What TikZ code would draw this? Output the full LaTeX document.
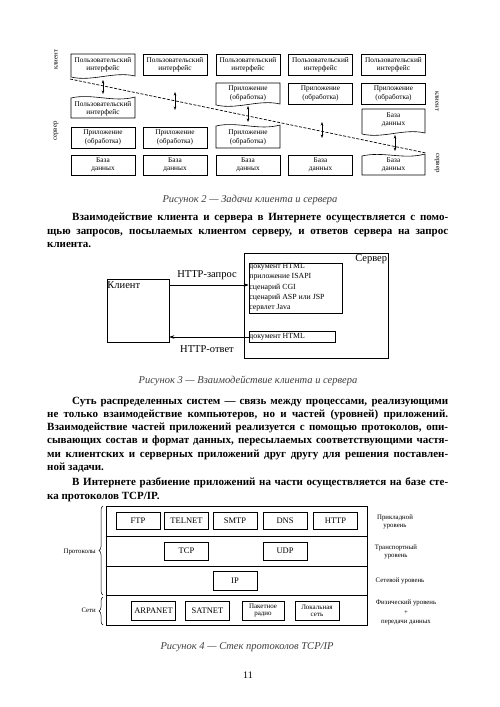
\documentclass[tikz,border=0pt]{standalone}
\usepackage{fontspec}
\setmainfont{Liberation Serif}
\usetikzlibrary{arrows.meta,decorations.pathreplacing}
\newcommand{\fsz}[2]{\fontsize{#1}{#2}\selectfont}
\tikzset{
  bx/.style={draw, line width=0.6pt, inner sep=0pt, align=center, font=\fsz{7.3}{8.3}, minimum width=64pt, minimum height=21pt},
  tx/.style={inner sep=0pt, align=center, font=\fsz{7.3}{8.3}},
  wv/.style={draw, line width=0.6pt},
  ln/.style={inner sep=0pt, anchor=base west, font=\fsz{11}{13}\bfseries},
  figcap/.style={inner sep=0pt, font=\fsz{10.5}{12}\itshape, text=black!75},
  pb/.style={draw, line width=0.6pt, minimum width=44pt, inner sep=0pt, align=center, font=\fsz{8.5}{9}},
  lab/.style={inner sep=0pt, align=center, font=\fsz{6.8}{8}},
  dbl/.style={{Stealth[length=3.5pt,width=2.6pt]}-{Stealth[length=3.5pt,width=2.6pt]}, line width=0.6pt},
  arr/.style={-{Stealth[length=5pt,width=3.5pt]}, line width=0.6pt},
  big/.style={inner sep=0pt, font=\fsz{10.5}{12}},
}
\begin{document}
\begin{tikzpicture}[x=1pt,y=-1pt]
\useasboundingbox (0,0) rectangle (500,707);
\fill[white] (0,0) rectangle (500,707);

% ---------------- Figure 2 ----------------
% column 1
\draw[wv] (71,54) -- (135,54) -- (135,76) .. controls (114,71) and (92,82) .. (71,77) -- cycle;
\node[tx] (c1ui) at (103,64.5) {Пользовательский\\интерфейс};
\draw[wv] (71,118) -- (71,98) .. controls (92,93) and (114,103) .. (135,97) -- (135,118) -- cycle;
\node[tx] (c1uib) at (103,108.5) {Пользовательский\\интерфейс};
\node[bx] (c1app) at (103,137.5) {Приложение\\(обработка)};
\node[bx, minimum height=20pt] (c1db) at (103,165) {База\\данных};
% column 2
\node[bx] (c2ui) at (175,64.5) {Пользовательский\\интерфейс};
\node[bx] (c2app) at (175,137.5) {Приложение\\(обработка)};
\node[bx, minimum height=20pt] (c2db) at (175,165) {База\\данных};
% column 3
\node[bx] (c3ui) at (248,64.5) {Пользовательский\\интерфейс};
\draw[wv] (216,83) -- (280,83) -- (280,104) .. controls (259,99) and (237,110) .. (216,105) -- cycle;
\node[tx] (c3app) at (248,93.5) {Приложение\\(обработка)};
\draw[wv] (216,148) -- (216,126) .. controls (237,121) and (259,131) .. (280,125) -- (280,148) -- cycle;
\node[tx] (c3appb) at (248,137.5) {Приложение\\(обработка)};
\node[bx, minimum height=20pt] (c3db) at (248,165) {База\\данных};
% column 4
\node[bx] (c4ui) at (320.5,64.5) {Пользовательский\\интерфейс};
\node[bx] (c4app) at (320.5,93.5) {Приложение\\(обработка)};
\node[bx, minimum height=20pt] (c4db) at (320.5,165) {База\\данных};
% column 5
\node[bx] (c5ui) at (393.5,64.5) {Пользовательский\\интерфейс};
\node[bx] (c5app) at (393.5,93.5) {Приложение\\(обработка)};
\draw[wv] (362,109) -- (425,109) -- (425,133) .. controls (404,128) and (383,139) .. (362,134) -- cycle;
\node[tx] (c5db) at (393.5,120) {База\\данных};
\draw[wv] (362,175) -- (362,156) .. controls (383,151) and (404,160) .. (425,154) -- (425,175) -- cycle;
\node[tx] (c5dbb) at (393.5,165) {База\\данных};
% dividing line
\coordinate (dl1) at (70,79);
\coordinate (dl2) at (426,153);
\draw[dash pattern=on 3pt off 1.5pt, line width=0.7pt] (dl1) -- (dl2);
% arrows
\coordinate (a1t) at (103,80);  \coordinate (a1b) at (103,94);
\coordinate (a2t) at (175,92);  \coordinate (a2b) at (175,110);
\coordinate (a3t) at (248,106); \coordinate (a3b) at (248,122);
\coordinate (a4t) at (322,122); \coordinate (a4b) at (322,138);
\coordinate (a5t) at (395,135); \coordinate (a5b) at (395,151);
\draw[dbl] (a1t) -- (a1b);
\draw[dbl] (a2t) -- (a2b);
\draw[dbl] (a3t) -- (a3b);
\draw[dbl] (a4t) -- (a4b);
\draw[dbl] (a5t) -- (a5b);
% side labels
\node[lab, rotate=90] (lcl) at (56,60) {клиент};
\node[lab, rotate=90] (lsv) at (56,131) {сервер};
\node[lab, rotate=-90] (rcl) at (437,101) {клиент};
\node[lab, rotate=-90] (rsv) at (437,163) {сервер};
\node[figcap] (cap2) at (250,200) {Рисунок 2 — Задачи клиента и сервера};

% ---------------- paragraph 1 ----------------
\node[ln] (t1) at (72,220.5) {\makebox[376pt][s]{Взаимодействие клиента и сервера в Интернете осуществляется с помо-}};
\node[ln] (t2) at (47,234) {\makebox[401pt][s]{щью запросов, посылаемых клиентом серверу, и ответов сервера на запрос}};
\node[ln] (t3) at (47,247.5) {клиента.};

% ---------------- Figure 3 ----------------
\node[draw, line width=0.6pt, minimum width=62pt, minimum height=63pt, inner sep=0pt] (client) at (138,310.5) {};
\node[big, anchor=north west] (clientlab) at ([xshift=0.5pt,yshift=-3pt]client.north west) {Клиент};
\node[draw, line width=0.6pt, minimum width=144pt, minimum height=105pt, inner sep=0pt] (server) at (316,305.5) {};
\node[big, anchor=north east] (serverlab) at ([xshift=-1pt,yshift=-1.5pt]server.north east) {Сервер};
\node[draw, line width=0.6pt, minimum width=93pt, minimum height=50pt, inner sep=0pt] (doc1) at (295.5,288) {};
\node[inner sep=0pt, anchor=north west, align=left, font=\fsz{7.8}{10.3}] (doc1t) at ([xshift=0.5pt,yshift=-0.5pt]doc1.north west) {документ HTML\\приложение ISAPI\\сценарий CGI\\сценарий ASP или JSP\\сервлет Java};
\node[draw, line width=0.6pt, minimum width=86pt, minimum height=11pt, inner sep=0pt] (doc2) at (292,336.5) {};
\node[inner sep=0pt, anchor=west, font=\fsz{7.8}{9}] (doc2t) at ([xshift=0.5pt]doc2.west) {документ HTML};
\coordinate (rq) at (0,285);
\coordinate (rs) at (0,337);
\draw[arr] (client.east |- rq) -- (doc1.west |- rq);
\draw[arr] (doc2.west |- rs) -- (client.east |- rs);
\node[big] (reqlab) at (207,275) {HTTP-запрос};
\node[big] (reslab) at (207,349) {HTTP-ответ};
\node[figcap] (cap3) at (248,381) {Рисунок 3 — Взаимодействие клиента и сервера};

% ---------------- paragraphs 2,3 ----------------
\node[ln] (u1) at (72,404) {\makebox[376pt][s]{Суть распределенных систем — связь между процессами, реализующими}};
\node[ln] (u2) at (47,417.3) {\makebox[401pt][s]{не только взаимодействие компьютеров, но и частей (уровней) приложений.}};
\node[ln] (u3) at (47,430.6) {\makebox[401pt][s]{Взаимодействие частей приложений реализуется с помощью протоколов, опи-}};
\node[ln] (u4) at (47,443.9) {\makebox[401pt][s]{сывающих состав и формат данных, пересылаемых соответствующими частя-}};
\node[ln] (u5) at (47,457.2) {\makebox[401pt][s]{ми клиентских и серверных приложений друг другу для решения поставлен-}};
\node[ln] (u6) at (47,470.5) {ной задачи.};
\node[ln] (u7) at (72,485.5) {\makebox[376pt][s]{В Интернете разбиение приложений на части осуществляется на базе сте-}};
\node[ln] (u8) at (47,499) {ка протоколов TCP/IP.};

% ---------------- Figure 4 ----------------
\node[draw, line width=0.6pt, minimum width=261pt, minimum height=119pt, inner sep=0pt] (stack) at (236.5,565.5) {};
\coordinate (s1) at (0,536);
\coordinate (s2) at (0,566);
\coordinate (s3) at (0,595);
\draw[line width=0.6pt] (stack.west |- s1) -- (stack.east |- s1);
\draw[line width=1pt] (stack.west |- s2) -- (stack.east |- s2);
\draw[line width=1pt] (stack.west |- s3) -- (stack.east |- s3);
\node[pb, minimum height=17pt] (ftp) at (138,521) {FTP};
\node[pb, minimum height=17pt] (telnet) at (186.5,521) {TELNET};
\node[pb, minimum height=17pt] (smtp) at (235,521) {SMTP};
\node[pb, minimum height=17pt] (dns) at (285,521) {DNS};
\node[pb, minimum height=17pt] (http) at (335.5,521) {HTTP};
\node[pb, minimum height=18pt] (tcp) at (186.5,551) {TCP};
\node[pb, minimum height=18pt] (udp) at (285,551) {UDP};
\node[pb, minimum height=19pt] (ip) at (235,580.5) {IP};
\node[pb, minimum height=19pt] (arpanet) at (153.5,610.5) {ARPANET};
\node[pb, minimum height=19pt] (satnet) at (207.5,610.5) {SATNET};
\node[pb, minimum height=19pt, minimum width=42pt, font=\fsz{7}{7.5}] (radio) at (263,610.5) {Пакетное\\радио};
\node[pb, minimum height=19pt, font=\fsz{7}{7.5}] (lan) at (317,610.5) {Локальная\\сеть};
% right labels
\node[lab] (lvl1) at (395,522) {Прикладной\\уровень};
\node[lab] (lvl2) at (396,551.5) {Транспортный\\уровень};
\node[lab] (lvl3) at (400,581) {Сетевой уровень};
\node[lab, font=\fsz{6.8}{9.5}] (lvl4) at (406,612.5) {Физический уровень\\+\\передачи данных};
% braces
\coordinate (b1a) at (103,595); \coordinate (b1b) at (103,506);
\coordinate (b2a) at (103,625); \coordinate (b2b) at (103,597);
\draw[line width=0.5pt, decorate, decoration={brace, amplitude=4pt}] (b1a) -- (b1b);
\draw[line width=0.5pt, decorate, decoration={brace, amplitude=4pt}] (b2a) -- (b2b);
\node[lab, anchor=east] (proto) at (96,552) {Протоколы};
\node[lab, anchor=east] (nets) at (96,610) {Сети};
\node[figcap] (cap4) at (247,647) {Рисунок 4 — Стек протоколов TCP/IP};
\node[inner sep=0pt, font=\fsz{10}{12}] (pg) at (248,675) {11};
\end{tikzpicture}
\end{document}
